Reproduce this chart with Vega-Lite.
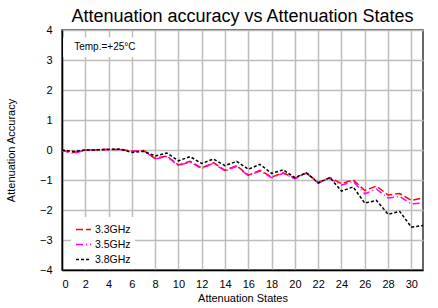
{
  "$schema": "https://vega.github.io/schema/vega-lite/v6.json",
  "autosize": "none",
  "width": 361,
  "height": 240,
  "padding": {"left": 62, "top": 30, "right": 15, "bottom": 38},
  "background": "white",
  "config": {
    "font": "Liberation Sans",
    "view": {"stroke": "#333333", "strokeWidth": 1.5}
  },
  "title": {
    "text": "Attenuation accuracy vs Attenuation States",
    "fontSize": 18,
    "font": "Liberation Sans",
    "fontWeight": "normal",
    "color": "black",
    "anchor": "middle",
    "offset": -2
  },
  "datasets": {
    "series": [
      {"x": 0, "freq": "3.3GHz", "value": -0.02}, {"x": 1, "freq": "3.3GHz", "value": -0.08}, {"x": 2, "freq": "3.3GHz", "value": 0.0}, {"x": 3, "freq": "3.3GHz", "value": 0.01},
      {"x": 4, "freq": "3.3GHz", "value": 0.02}, {"x": 5, "freq": "3.3GHz", "value": 0.02}, {"x": 6, "freq": "3.3GHz", "value": -0.04}, {"x": 7, "freq": "3.3GHz", "value": -0.02},
      {"x": 8, "freq": "3.3GHz", "value": -0.28}, {"x": 9, "freq": "3.3GHz", "value": -0.2}, {"x": 10, "freq": "3.3GHz", "value": -0.5}, {"x": 11, "freq": "3.3GHz", "value": -0.38},
      {"x": 12, "freq": "3.3GHz", "value": -0.6}, {"x": 13, "freq": "3.3GHz", "value": -0.42}, {"x": 14, "freq": "3.3GHz", "value": -0.68}, {"x": 15, "freq": "3.3GHz", "value": -0.52},
      {"x": 16, "freq": "3.3GHz", "value": -0.84}, {"x": 17, "freq": "3.3GHz", "value": -0.68}, {"x": 18, "freq": "3.3GHz", "value": -0.9}, {"x": 19, "freq": "3.3GHz", "value": -0.76},
      {"x": 20, "freq": "3.3GHz", "value": -0.94}, {"x": 21, "freq": "3.3GHz", "value": -0.76}, {"x": 22, "freq": "3.3GHz", "value": -1.08}, {"x": 23, "freq": "3.3GHz", "value": -0.92},
      {"x": 24, "freq": "3.3GHz", "value": -1.12}, {"x": 25, "freq": "3.3GHz", "value": -1.0}, {"x": 26, "freq": "3.3GHz", "value": -1.35}, {"x": 27, "freq": "3.3GHz", "value": -1.2},
      {"x": 28, "freq": "3.3GHz", "value": -1.5}, {"x": 29, "freq": "3.3GHz", "value": -1.45}, {"x": 30, "freq": "3.3GHz", "value": -1.68}, {"x": 31, "freq": "3.3GHz", "value": -1.6},

      {"x": 0, "freq": "3.5GHz", "value": -0.02}, {"x": 1, "freq": "3.5GHz", "value": -0.12}, {"x": 2, "freq": "3.5GHz", "value": 0.0}, {"x": 3, "freq": "3.5GHz", "value": 0.01},
      {"x": 4, "freq": "3.5GHz", "value": 0.02}, {"x": 5, "freq": "3.5GHz", "value": 0.02}, {"x": 6, "freq": "3.5GHz", "value": -0.04}, {"x": 7, "freq": "3.5GHz", "value": -0.02},
      {"x": 8, "freq": "3.5GHz", "value": -0.3}, {"x": 9, "freq": "3.5GHz", "value": -0.22}, {"x": 10, "freq": "3.5GHz", "value": -0.52}, {"x": 11, "freq": "3.5GHz", "value": -0.4},
      {"x": 12, "freq": "3.5GHz", "value": -0.62}, {"x": 13, "freq": "3.5GHz", "value": -0.44}, {"x": 14, "freq": "3.5GHz", "value": -0.7}, {"x": 15, "freq": "3.5GHz", "value": -0.54},
      {"x": 16, "freq": "3.5GHz", "value": -0.86}, {"x": 17, "freq": "3.5GHz", "value": -0.7}, {"x": 18, "freq": "3.5GHz", "value": -0.92}, {"x": 19, "freq": "3.5GHz", "value": -0.78},
      {"x": 20, "freq": "3.5GHz", "value": -0.96}, {"x": 21, "freq": "3.5GHz", "value": -0.78}, {"x": 22, "freq": "3.5GHz", "value": -1.1}, {"x": 23, "freq": "3.5GHz", "value": -0.95},
      {"x": 24, "freq": "3.5GHz", "value": -1.17}, {"x": 25, "freq": "3.5GHz", "value": -1.05}, {"x": 26, "freq": "3.5GHz", "value": -1.46}, {"x": 27, "freq": "3.5GHz", "value": -1.3},
      {"x": 28, "freq": "3.5GHz", "value": -1.6}, {"x": 29, "freq": "3.5GHz", "value": -1.55}, {"x": 30, "freq": "3.5GHz", "value": -1.8}, {"x": 31, "freq": "3.5GHz", "value": -1.76},

      {"x": 0, "freq": "3.8GHz", "value": 0.0}, {"x": 1, "freq": "3.8GHz", "value": -0.05}, {"x": 2, "freq": "3.8GHz", "value": 0.0}, {"x": 3, "freq": "3.8GHz", "value": 0.0},
      {"x": 4, "freq": "3.8GHz", "value": 0.02}, {"x": 5, "freq": "3.8GHz", "value": 0.03}, {"x": 6, "freq": "3.8GHz", "value": -0.08}, {"x": 7, "freq": "3.8GHz", "value": -0.04},
      {"x": 8, "freq": "3.8GHz", "value": -0.2}, {"x": 9, "freq": "3.8GHz", "value": -0.1}, {"x": 10, "freq": "3.8GHz", "value": -0.36}, {"x": 11, "freq": "3.8GHz", "value": -0.22},
      {"x": 12, "freq": "3.8GHz", "value": -0.45}, {"x": 13, "freq": "3.8GHz", "value": -0.3}, {"x": 14, "freq": "3.8GHz", "value": -0.52}, {"x": 15, "freq": "3.8GHz", "value": -0.38},
      {"x": 16, "freq": "3.8GHz", "value": -0.64}, {"x": 17, "freq": "3.8GHz", "value": -0.48}, {"x": 18, "freq": "3.8GHz", "value": -0.78}, {"x": 19, "freq": "3.8GHz", "value": -0.66},
      {"x": 20, "freq": "3.8GHz", "value": -0.92}, {"x": 21, "freq": "3.8GHz", "value": -0.76}, {"x": 22, "freq": "3.8GHz", "value": -1.1}, {"x": 23, "freq": "3.8GHz", "value": -0.92},
      {"x": 24, "freq": "3.8GHz", "value": -1.37}, {"x": 25, "freq": "3.8GHz", "value": -1.23}, {"x": 26, "freq": "3.8GHz", "value": -1.77}, {"x": 27, "freq": "3.8GHz", "value": -1.68},
      {"x": 28, "freq": "3.8GHz", "value": -2.14}, {"x": 29, "freq": "3.8GHz", "value": -2.05}, {"x": 30, "freq": "3.8GHz", "value": -2.57}, {"x": 31, "freq": "3.8GHz", "value": -2.52}
    ],
    "notebox": [{"x": 0.1, "xe": 7, "value": 3.1, "ve": 3.75}],
    "notetext": [{"x": 1.05, "value": 3.43, "label": "Temp.=+25°C"}]
  },
  "encoding": {
    "x": {
      "field": "x", "type": "quantitative",
      "scale": {"domain": [0, 31], "nice": false, "zero": false},
      "axis": {
        "title": "Attenuation States", "values": [0,2,4,6,8,10,12,14,16,18,20,22,24,26,28,30],
        "labelOverlap": false,
        "grid": true, "gridColor": "#bdbdbd", "gridWidth": 1.5, "gridOpacity": 1,
        "ticks": false, "domainColor": "black", "domainWidth": 1.5,
        "labelFontSize": 11, "labelColor": "black", "labelPadding": 8, "labelFont": "Liberation Sans",
        "titleFontSize": 11, "titleFontWeight": "normal", "titleColor": "black", "titlePadding": 3, "titleFont": "Liberation Sans"
      }
    },
    "y": {
      "field": "value", "type": "quantitative",
      "scale": {"domain": [-4, 4], "nice": false, "zero": false},
      "axis": {
        "title": "Attenuation Accuracy", "values": [-4,-3,-2,-1,0,1,2,3,4],
        "labelOverlap": false,
        "grid": true, "gridColor": "#bdbdbd", "gridWidth": 1.5, "gridOpacity": 1,
        "ticks": false, "domainColor": "black", "domainWidth": 1.5,
        "labelFontSize": 11, "labelColor": "black", "labelPadding": 10, "labelFont": "Liberation Sans",
        "titleFontSize": 11, "titleFontWeight": "normal", "titleColor": "black", "titlePadding": 23, "titleFont": "Liberation Sans"
      }
    }
  },
  "layer": [
    {
      "data": {"name": "series"},
      "mark": {"type": "line", "strokeWidth": 1.5},
      "encoding": {
        "color": {
          "field": "freq", "type": "nominal",
          "scale": {"domain": ["3.3GHz", "3.5GHz", "3.8GHz"], "range": ["#ff0000", "#ff00ff", "#000000"]},
          "legend": {
            "title": null, "orient": "none", "legendX": 9, "legendY": 187,
            "fillColor": "white", "padding": 4, "symbolType": "stroke", "symbolSize": 225,
            "symbolStrokeWidth": 1.5, "labelFontSize": 10.5, "labelColor": "black", "labelFont": "Liberation Sans",
            "labelOffset": 3, "rowPadding": 1
          }
        },
        "strokeDash": {
          "field": "freq", "type": "nominal",
          "scale": {"domain": ["3.3GHz", "3.5GHz", "3.8GHz"], "range": [[7, 3], [7, 3, 1, 3], [3, 2]]}
        }
      }
    },
    {
      "data": {"name": "notebox"},
      "mark": {"type": "rect", "fill": "white", "stroke": null},
      "encoding": {
        "x2": {"field": "xe"},
        "y2": {"field": "ve"}
      }
    },
    {
      "data": {"name": "notetext"},
      "mark": {"type": "text", "align": "left", "baseline": "middle", "fontSize": 10, "color": "black", "font": "Liberation Sans"},
      "encoding": {
        "text": {"field": "label"}
      }
    }
  ]
}
